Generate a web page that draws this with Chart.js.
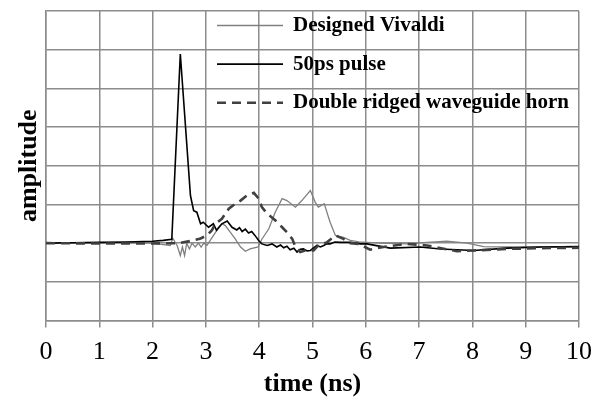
<!DOCTYPE html>
<html>
<head>
<meta charset="utf-8">
<script src="https://cdn.jsdelivr.net/npm/chart.js@4/dist/chart.umd.min.js"></script>
<style>
  html, body { margin: 0; padding: 0; background: #fff; }
  canvas { display: block; }
</style>
</head>
<body>
<canvas id="c" width="597" height="403"></canvas>
<script>
// ---- data ----
const xTicks = [0, 1, 2, 3, 4, 5, 6, 7, 8, 9, 10];
const seriesNames = ["Designed Vivaldi", "50ps pulse", "Double ridged waveguide horn"];

const vivaldiTime = [0, 1, 2, 2.33, 2.38, 2.46, 2.52, 2.56, 2.6, 2.64, 2.69, 2.74, 2.8, 2.86, 2.91, 2.96, 3.02, 3.1, 3.18, 3.24, 3.3, 3.36, 3.46, 3.55, 3.65, 3.74, 3.83, 3.98, 4.05, 4.18, 4.3, 4.43, 4.52, 4.68, 4.8, 4.96, 5.05, 5.11, 5.22, 5.33, 5.43, 5.58, 5.71, 5.87, 6.27, 6.77, 7.15, 7.52, 7.9, 8.21, 8.65, 9.27, 10];
const vivaldiAmp  = [0, 0, 0, -0.06, 0.12, -0.06, -0.32, -0.1, -0.32, 0, -0.15, 0, -0.1, 0, -0.1, 0, -0.06, 0.11, 0.28, 0.41, 0.5, 0.46, 0.28, 0.11, -0.1, -0.21, -0.15, -0.1, 0.1, 0.37, 0.8, 1.15, 1.1, 0.93, 1.1, 1.36, 1.06, 0.93, 1.02, 0.54, 0.2, 0.15, 0.07, 0.03, 0, -0.02, 0.02, 0.05, 0, -0.09, -0.1, -0.1, -0.09];

const pulseTime = [0, 0.5, 1, 1.5, 2, 2.2, 2.36, 2.52, 2.71, 2.77, 2.83, 2.9, 2.95, 3.05, 3.14, 3.2, 3.3, 3.4, 3.49, 3.58, 3.63, 3.68, 3.74, 3.8, 3.86, 3.92, 3.99, 4.05, 4.15, 4.24, 4.33, 4.4, 4.46, 4.52, 4.58, 4.65, 4.71, 4.77, 4.83, 4.9, 4.96, 5.08, 5.15, 5.21, 5.27, 5.33, 5.42, 5.52, 5.71, 5.9, 6.02, 6.46, 7.02, 7.4, 8.02, 8.65, 9.27, 10];
const pulseAmp  = [0, 0.01, 0.02, 0.03, 0.05, 0.07, 0.1, 4.89, 1.23, 0.84, 0.8, 0.5, 0.54, 0.41, 0.5, 0.33, 0.5, 0.57, 0.41, 0.34, 0.4, 0.3, 0.36, 0.26, 0.3, 0.2, 0.07, -0.02, -0.06, -0.02, -0.1, -0.05, -0.12, -0.08, -0.17, -0.13, -0.23, -0.16, -0.15, -0.2, -0.19, -0.06, -0.1, -0.06, -0.02, -0.02, 0.03, 0.02, 0.02, -0.02, -0.02, -0.13, -0.1, -0.15, -0.19, -0.13, -0.1, -0.09];

const hornTime = [0, 1, 2, 2.5, 2.77, 2.9, 3.02, 3.11, 3.18, 3.3, 3.43, 3.55, 3.65, 3.77, 3.9, 3.99, 4.05, 4.15, 4.3, 4.43, 4.52, 4.62, 4.68, 4.77, 4.86, 5.02, 5.11, 5.27, 5.43, 5.58, 5.71, 5.87, 6.08, 6.33, 6.77, 7.15, 7.71, 8.02, 8.65, 9.27, 10];
const hornAmp  = [0, -0.01, -0.01, 0, 0.07, 0.12, 0.2, 0.33, 0.5, 0.63, 0.89, 1.02, 1.1, 1.23, 1.3, 1.15, 0.93, 0.76, 0.59, 0.41, 0.28, 0.11, -0.1, -0.23, -0.19, -0.19, -0.06, 0.02, 0.2, 0.11, 0, -0.02, -0.17, -0.1, -0.02, -0.06, -0.21, -0.19, -0.15, -0.13, -0.12];

function pts(t, a) { return t.map((x, i) => ({ x: x, y: a[i] })); }

const GRID = '#8c8c8c';
Chart.defaults.font.family = "'Liberation Serif', 'Times New Roman', serif";
Chart.defaults.color = '#000';

// legend drawn inside the plot area, reading labels/styles from the datasets
const innerLegend = {
  id: 'innerLegend',
  afterDraw(chart, args, opts) {
    const ctx = chart.ctx;
    ctx.save();
    ctx.font = 'bold 21px ' + Chart.defaults.font.family;
    ctx.textBaseline = 'middle';
    ctx.textAlign = 'left';
    chart.data.datasets.forEach((ds, i) => {
      const y = opts.y0 + i * opts.dy;
      ctx.beginPath();
      ctx.strokeStyle = ds.borderColor;
      ctx.lineWidth = ds.borderWidth;
      ctx.setLineDash(ds.borderDash || []);
      ctx.moveTo(opts.x0, y);
      ctx.lineTo(opts.x0 + opts.len, y);
      ctx.stroke();
      ctx.setLineDash([]);
      ctx.fillStyle = '#000';
      ctx.fillText(ds.label, opts.x0 + opts.len + opts.gap, y);
    });
    ctx.restore();
  }
};

new Chart(document.getElementById('c'), {
  type: 'line',
  data: {
    datasets: [
      { label: seriesNames[0], data: pts(vivaldiTime, vivaldiAmp), borderColor: '#808080', borderWidth: 1.3, order: 2 },
      { label: seriesNames[1], data: pts(pulseTime, pulseAmp), borderColor: '#000000', borderWidth: 1.6, order: 1 },
      { label: seriesNames[2], data: pts(hornTime, hornAmp), borderColor: '#404040', borderWidth: 2.6, borderDash: [9, 6], order: 0 }
    ]
  },
  options: {
    responsive: false,
    animation: false,
    devicePixelRatio: 1,
    elements: { point: { radius: 0 }, line: { tension: 0, fill: false } },
    layout: { padding: { top: 11, right: 18, bottom: 0, left: 0 } },
    plugins: {
      legend: { display: false },
      tooltip: { enabled: false },
      innerLegend: { x0: 217, len: 66, gap: 10, y0: 25.5, dy: 38.6 }
    },
    scales: {
      x: {
        type: 'linear', min: 0, max: 10,
        afterBuildTicks: s => { s.ticks = xTicks.map(v => ({ value: v })); },
        afterFit: s => { s.height = 82.5; s.paddingLeft = 0; s.paddingRight = 0; },
        ticks: { font: { size: 26 }, color: '#000', padding: 9, maxRotation: 0, autoSkip: false },
        grid: { color: GRID, lineWidth: 1.5, tickLength: 7, drawTicks: true },
        border: { color: GRID, width: 1.5 },
        title: { display: true, text: 'time (ns)', font: { size: 26, weight: 'bold' }, color: '#000', padding: { top: 0, bottom: 3 } }
      },
      y: {
        type: 'linear', min: -2, max: 6,
        afterFit: s => { s.width = 46; s.paddingTop = 0; s.paddingBottom = 0; },
        ticks: { stepSize: 1, display: false },
        grid: { color: GRID, lineWidth: 1.5, drawTicks: false },
        border: { color: GRID, width: 1.5 },
        title: { display: true, text: 'amplitude', font: { size: 26, weight: 'bold' }, color: '#000', padding: { top: 14, bottom: 0 } }
      }
    }
  },
  plugins: [innerLegend]
});
</script>
</body>
</html>
